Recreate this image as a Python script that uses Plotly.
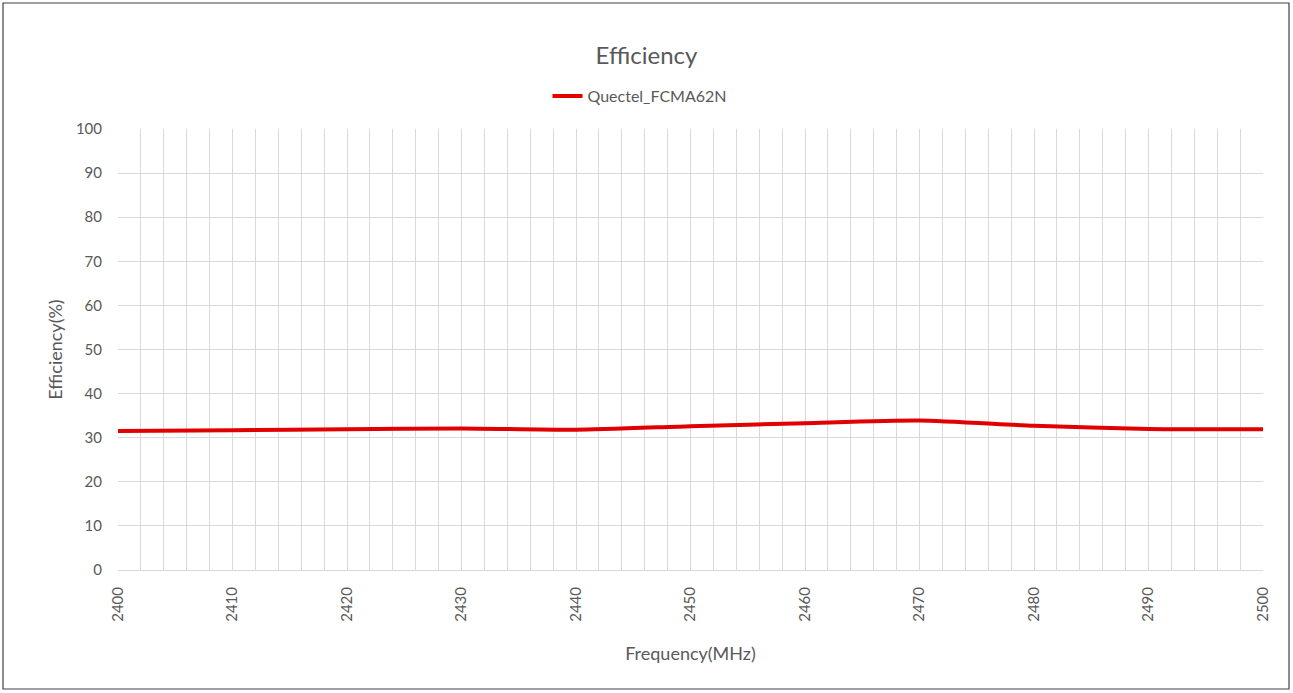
import plotly.graph_objects as go

freq = [2400, 2410, 2420, 2430, 2440, 2450, 2460, 2470, 2480, 2490, 2500]
efficiency = [31.5, 31.7, 31.9, 32.1, 31.8, 32.6, 33.3, 33.9, 32.7, 32.0, 31.9]
series_name = "Quectel_FCMA62N"
x_ticks = [2400, 2410, 2420, 2430, 2440, 2450, 2460, 2470, 2480, 2490, 2500]
y_ticks = [0, 10, 20, 30, 40, 50, 60, 70, 80, 90, 100]

FONT = "Lato, 'Open Sans', sans-serif"
GRAY = "#595959"
GRID = "#d9d9d9"

fig = go.Figure()
fig.add_trace(go.Scatter(
    x=freq, y=efficiency, mode="lines", name=series_name,
    line=dict(color="#E00000", width=4, shape="spline", smoothing=0.6),
))

fig.update_layout(
    width=1293, height=693,
    paper_bgcolor="white", plot_bgcolor="white",
    margin=dict(l=118, r=30, t=129, b=123),
    font=dict(family=FONT, color=GRAY, size=15),
    title=dict(text="Efficiency", x=0.5, xref="container", xanchor="center",
               y=1 - 56 / 693, yanchor="middle",
               font=dict(size=24, color=GRAY, family=FONT)),
    showlegend=True,
    legend=dict(orientation="h", x=(640 - 118) / 1145, xanchor="center",
                y=(570 - 96) / 441, yanchor="middle",
                font=dict(size=16, color=GRAY, family=FONT),
                bgcolor="rgba(0,0,0,0)"),
    shapes=[dict(type="rect", xref="paper", yref="paper", x0=-115 / 1145, x1=1 + 26 / 1145,
                 y0=-119 / 441, y1=1 + 126 / 441, line=dict(color="#404040", width=1.2),
                 fillcolor="rgba(0,0,0,0)", layer="below")],
)

fig.update_xaxes(
    range=[2400, 2500], tickvals=x_ticks, ticktext=[str(v) for v in x_ticks],
    tickangle=-90, showgrid=True, gridcolor=GRID, gridwidth=1,
    minor=dict(dtick=2, tick0=2400, showgrid=True, gridcolor=GRID, gridwidth=1),
    showline=True, linecolor=GRID, linewidth=1, zeroline=False,
    ticks="", ticklabelstandoff=10,
    tickfont=dict(size=15, color=GRAY),
    title=dict(text="Frequency(MHz)", standoff=26, font=dict(size=18, color=GRAY)),
)
fig.update_yaxes(
    range=[0, 100], tickvals=y_ticks, showgrid=True, gridcolor=GRID, gridwidth=1,
    zeroline=False, showline=False, ticks="", ticklabelstandoff=15,
    tickfont=dict(size=15, color=GRAY),
    title=dict(text="Efficiency(%)", standoff=8, font=dict(size=18, color=GRAY)),
)

fig.write_html("out.html", config={"displayModeBar": False},
               post_script="document.body.style.margin='0';document.body.style.overflow='hidden';")
